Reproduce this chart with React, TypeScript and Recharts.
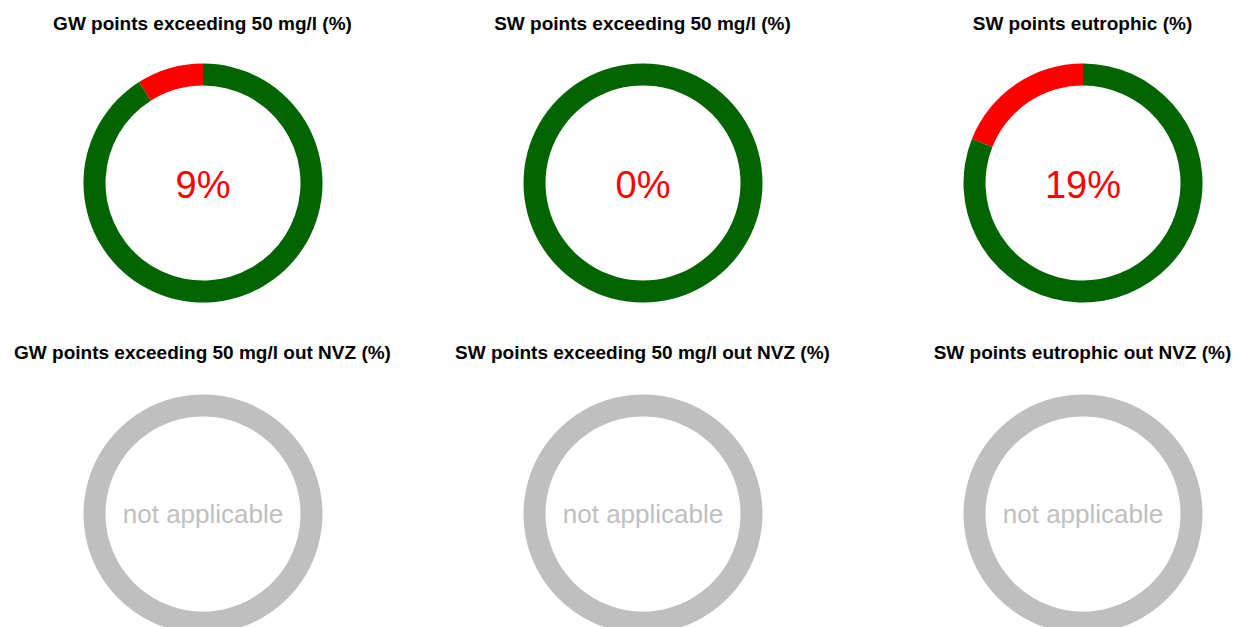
import { Label, Pie, PieChart, Cell } from "recharts";

const topTitles = ["GW points exceeding 50 mg/l (%)", "SW points exceeding 50 mg/l (%)", "SW points eutrophic (%)"];
const bottomTitles = [
  "GW points exceeding 50 mg/l out NVZ (%)",
  "SW points exceeding 50 mg/l out NVZ (%)",
  "SW points eutrophic out NVZ (%)",
];
const exceedPercent = [9, 0, 19];
const naText = "not applicable";

const RED = "#ff0000";
const GREEN = "#006400";
const GREY = "#bfbfbf";
const FONT = "'Liberation Sans', Arial, Helvetica, sans-serif";

const colCenters = [202.5, 642.5, 1082.5];
const topCy = 182.5;
const bottomCy = 513.5;
const cellW = 440;
const cellH = 300;

type Slice = { name: string; value: number; color: string };

function Donut({ data, label, labelColor, labelSize, labelDy, cx, cy }: { data: Slice[]; label: string; labelColor: string; labelSize: number; labelDy: number; cx: number; cy: number }) {
  return (
    <div style={{ position: "absolute", left: cx - cellW / 2, top: cy - cellH / 2, width: cellW, height: cellH }}>
      <PieChart width={cellW} height={cellH} margin={{ top: 0, right: 0, bottom: 0, left: 0 }}>
        <Pie
          data={data}
          dataKey="value"
          nameKey="name"
          startAngle={90}
          endAngle={450}
          innerRadius={97.5}
          outerRadius={119.5}
          stroke="none"
          isAnimationActive={false}
        >
          {data.map((d) => (
            <Cell key={d.name} fill={d.color} />
          ))}
          <Label value={label} position="center" fill={labelColor} fontSize={labelSize} fontFamily={FONT} dy={labelDy} />
        </Pie>
      </PieChart>
    </div>
  );
}

export default function App() {
  return (
    <div style={{ position: "absolute", left: 0, top: 0, width: 1236, height: 627, overflow: "hidden", background: "#fff" }}>
      {exceedPercent.map((p, i) => (
        <Donut
          key={"t" + i}
          data={[
            { name: "exceeding", value: p, color: RED },
            { name: "other", value: 100 - p, color: GREEN },
          ]}
          label={`${p}%`}
          labelColor={RED}
          labelSize={38}
          labelDy={2}
          cx={colCenters[i]}
          cy={topCy}
        />
      ))}
      {bottomTitles.map((t, i) => (
        <Donut
          key={"b" + i}
          data={[{ name: "na", value: 1, color: GREY }]}
          label={naText}
          labelColor={GREY}
          labelSize={26}
          labelDy={0}
          cx={colCenters[i]}
          cy={bottomCy}
        />
      ))}
      <svg width={1236} height={627} style={{ position: "absolute", left: 0, top: 0, pointerEvents: "none" }}>
        {topTitles.map((t, i) => (
          <text key={t} x={colCenters[i]} y={30} textAnchor="middle" fontFamily={FONT} fontWeight="bold" fontSize={19} fill="#000">
            {t}
          </text>
        ))}
        {bottomTitles.map((t, i) => (
          <text key={t} x={colCenters[i]} y={359} textAnchor="middle" fontFamily={FONT} fontWeight="bold" fontSize={19} fill="#000">
            {t}
          </text>
        ))}
      </svg>
    </div>
  );
}
